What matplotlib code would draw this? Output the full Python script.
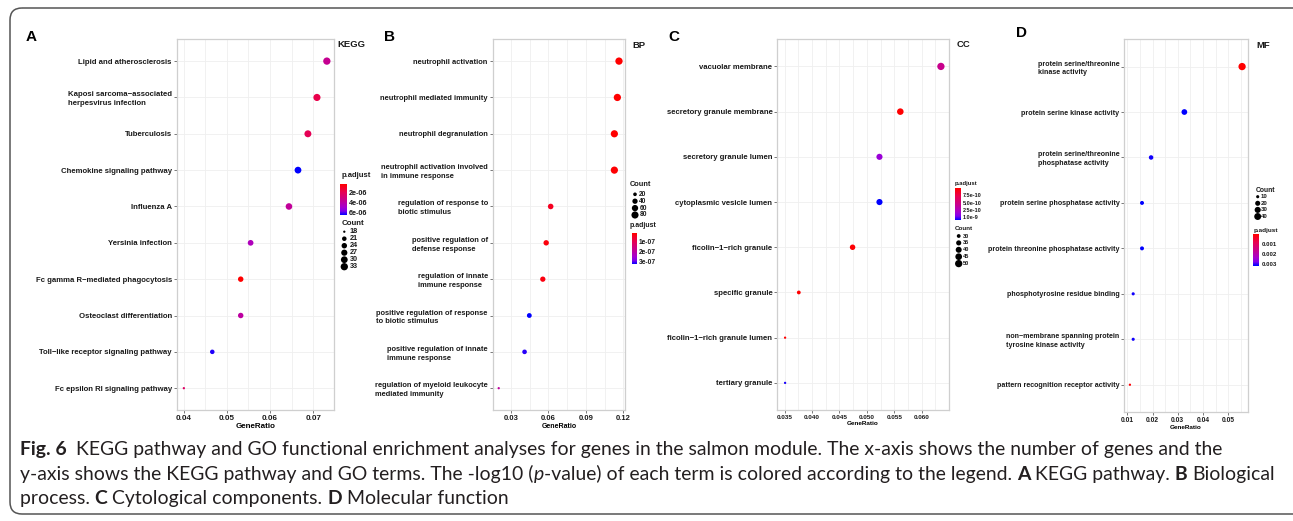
import numpy as np
import matplotlib
matplotlib.use('Agg')
import matplotlib.pyplot as plt
from matplotlib.colors import LinearSegmentedColormap, Normalize
from matplotlib.cm import ScalarMappable
from matplotlib.ticker import AutoMinorLocator
from matplotlib.patches import FancyBboxPatch

# ---- dados (dotplot KEGG / GO) ----
MINUS = '\u2212'

A_terms = ['Lipid and atherosclerosis',
           'Kaposi sarcoma' + MINUS + 'associated\nherpesvirus infection',
           'Tuberculosis', 'Chemokine signaling pathway', 'Influenza A',
           'Yersinia infection', 'Fc gamma R' + MINUS + 'mediated phagocytosis',
           'Osteoclast differentiation',
           'Toll' + MINUS + 'like receptor signaling pathway',
           'Fc epsilon RI signaling pathway']
A_ratio = [0.0732, 0.0709, 0.0688, 0.0665, 0.0644, 0.0555, 0.0532, 0.0532, 0.0466, 0.0400]
A_count = [33, 32, 31, 30, 29, 25, 24, 24, 21, 18]
A_padj = [3.6e-06, 1.8e-06, 2.0e-06, 6.6e-06, 3.8e-06, 4.6e-06, 3.0e-07, 4.0e-06, 6.4e-06, 2.4e-06]

B_terms = ['neutrophil activation', 'neutrophil mediated immunity',
           'neutrophil degranulation',
           'neutrophil activation involved\nin immune response',
           'regulation of response to\nbiotic stimulus',
           'positive regulation of\ndefense response',
           'regulation of innate\nimmune response',
           'positive regulation of response\nto biotic stimulus',
           'positive regulation of innate\nimmune response',
           'regulation of myeloid leukocyte\nmediated immunity']
B_ratio = [0.1165, 0.1152, 0.1128, 0.1128, 0.0618, 0.0582, 0.0555, 0.0447, 0.0409, 0.0202]
B_count = [85, 84, 82, 82, 45, 42, 40, 33, 30, 15]
B_padj = [1.3e-08, 1.5e-08, 1.4e-08, 1.6e-08, 4.5e-08, 2.5e-08, 2.8e-08, 3.23e-07, 3.1e-07, 1.9e-07]

C_terms = ['vacuolar membrane', 'secretory granule membrane',
           'secretory granule lumen', 'cytoplasmic vesicle lumen',
           'ficolin' + MINUS + '1' + MINUS + 'rich granule', 'specific granule',
           'ficolin' + MINUS + '1' + MINUS + 'rich granule lumen', 'tertiary granule']
C_ratio = [0.0635, 0.0561, 0.0523, 0.0523, 0.0474, 0.0376, 0.0351, 0.0351]
C_count = [50, 44, 41, 41, 37, 30, 28, 28]
C_padj = [5.6e-10, 2.0e-11, 8.6e-10, 1.086e-09, 3.0e-11, 1.5e-11, 1.5e-11, 1.06e-09]

D_terms = ['protein serine/threonine\nkinase activity',
           'protein serine kinase activity',
           'protein serine/threonine\nphosphatase activity',
           'protein serine phosphatase activity',
           'protein threonine phosphatase activity',
           'phosphotyrosine residue binding',
           'non' + MINUS + 'membrane spanning protein\ntyrosine kinase activity',
           'pattern recognition receptor activity']
D_ratio = [0.0555, 0.0326, 0.0194, 0.0158, 0.0158, 0.0123, 0.0123, 0.0110]
D_count = [45, 26, 16, 13, 13, 10, 10, 9]
D_padj = [6.0e-05, 3.15e-03, 3.1e-03, 3.15e-03, 3.15e-03, 3.1e-03, 3.1e-03, 1.2e-04]

# eixos x e legendas
A_xticks = [0.04, 0.05, 0.06, 0.07]
B_xticks = [0.03, 0.06, 0.09, 0.12]
C_xticks = [0.035, 0.040, 0.045, 0.050, 0.055, 0.060]
D_xticks = [0.01, 0.02, 0.03, 0.04, 0.05]

A_cb_ticks = [2e-06, 4e-06, 6e-06]
A_cb_labels = ['2e-06', '4e-06', '6e-06']
B_cb_ticks = [1e-07, 2e-07, 3e-07]
B_cb_labels = ['1e-07', '2e-07', '3e-07']
C_cb_ticks = [2.5e-10, 5.0e-10, 7.5e-10, 1.0e-09]
C_cb_labels = ['7.5e-10', '5.0e-10', '2.5e-10', '1.0e-9']
D_cb_ticks = [0.001, 0.002, 0.003]
D_cb_labels = ['0.001', '0.002', '0.003']

A_breaks = [18, 21, 24, 27, 30, 33]
B_breaks = [20, 40, 60, 80]
C_breaks = [30, 35, 40, 45, 50]
D_breaks = [10, 20, 30, 40]

caption = [
    [('Fig. 6  ', 'bold', 'normal'),
     ('KEGG pathway and GO functional enrichment analyses for genes in the salmon module. '
      'The x-axis shows the number of genes and the', 'normal', 'normal')],
    [('y-axis shows the KEGG pathway and GO terms. The -log10 (', 'normal', 'normal'),
     ('p', 'normal', 'italic'),
     ('-value) of each term is colored according to the legend. ', 'normal', 'normal'),
     ('A ', 'bold', 'normal'), ('KEGG pathway. ', 'normal', 'normal'),
     ('B ', 'bold', 'normal'), ('Biological', 'normal', 'normal')],
    [('process. ', 'normal', 'normal'), ('C ', 'bold', 'normal'),
     ('Cytological components. ', 'normal', 'normal'),
     ('D ', 'bold', 'normal'), ('Molecular function', 'normal', 'normal')],
]

# ---- figura ----
W, H = 1293, 521
plt.rcParams['font.family'] = ['Liberation Sans', 'DejaVu Sans']
fig = plt.figure(figsize=(W / 100, H / 100), dpi=100)
fig.patch.set_facecolor('white')

cmap = LinearSegmentedColormap.from_list(
    'padj', [(0, '#FF0000'), (0.25, '#E80050'), (0.5, '#C90089'),
             (0.75, '#A600CE'), (0.875, '#7F00EC'), (1, '#0000FF')])


def rect(l, t, r, b):
    # caixa em pixels -> coordenadas da figura
    return [l / W, 1 - b / H, (r - l) / W, (b - t) / H]


def dot_size(c, cmin, cmax):
    f = np.clip((np.asarray(c, float) - cmin) / (cmax - cmin), 0, 1)
    d = 2.3 + 5.0 * np.sqrt(f)  # diametro em px
    return (d * 0.72) ** 2


def panel(box, terms, ratio, count, padj, xticks, xfmt, fs_y, fs_x, fs_lab):
    ax = fig.add_axes(rect(*box))
    n = len(terms)
    y = np.arange(n)[::-1]
    norm = Normalize(min(padj), max(padj))
    ax.scatter(ratio, y, s=dot_size(count, min(count), max(count)), c=padj,
               cmap=cmap, norm=norm, linewidths=0, zorder=3)
    ax.set_ylim(-0.6, n - 0.4)
    ax.set_yticks(y)
    ax.set_yticklabels(terms, fontsize=fs_y, fontweight='bold', color='#1a1a1a',
                       linespacing=1.35)
    for lab in ax.get_yticklabels():
        lab.set_multialignment('left')
    ax.set_xticks(xticks)
    ax.set_xticklabels([xfmt % v for v in xticks], fontsize=fs_x,
                       fontweight='bold', color='#1a1a1a')
    ax.xaxis.set_minor_locator(AutoMinorLocator(2))
    ax.grid(True, which='both', color='#efefef', lw=0.6)
    ax.set_axisbelow(True)
    for s in ax.spines.values():
        s.set_color('#cfcfcf')
        s.set_linewidth(0.9)
    ax.tick_params(length=2, width=0.5, color='#444444', pad=1.5)
    ax.tick_params(which='minor', length=0)
    ax.set_xlabel('GeneRatio', fontsize=fs_lab, fontweight='bold', labelpad=1)
    return norm


def colorbar(cbox, norm, ticks, labels, fs):
    cax = fig.add_axes(rect(*cbox))
    cb = fig.colorbar(ScalarMappable(norm=norm, cmap=cmap), cax=cax)
    cax.invert_yaxis()
    cb.set_ticks(ticks)
    cb.set_ticklabels(labels)
    cax.tick_params(length=0, labelsize=fs, pad=1.5)
    for lab in cax.get_yticklabels():
        lab.set_fontweight('bold')
        lab.set_color('#1a1a1a')
    cb.outline.set_visible(False)


normA = panel((176.7, 39.3, 334, 410), A_terms, A_ratio, A_count, A_padj,
              A_xticks, '%.2f', 5.6, 5.8, 5.8)
normB = panel((492.7, 39.3, 625, 410), B_terms, B_ratio, B_count, B_padj,
              B_xticks, '%.2f', 5.45, 5.5, 5.0)
normC = panel((777.3, 39.3, 948.7, 410), C_terms, C_ratio, C_count, C_padj,
              C_xticks, '%.3f', 5.6, 4.6, 4.6)
normD = panel((1124.3, 39.3, 1247.7, 412), D_terms, D_ratio, D_count, D_padj,
              D_xticks, '%.2f', 5.1, 4.8, 4.6)

# camada de sobreposicao em pixels (legendas, moldura)
ov = fig.add_axes([0, 0, 1, 1])
ov.set_xlim(0, W)
ov.set_ylim(H, 0)
ov.axis('off')


def count_legend(x_title, y_title, x_dot, x_lab, y0, step, breaks, count, fs):
    ov.text(x_title, y_title, 'Count', fontsize=fs + 0.5, fontweight='bold',
            va='center', ha='left', color='#1a1a1a')
    ys = [y0 + i * step for i in range(len(breaks))]
    ov.scatter([x_dot] * len(breaks), ys, s=dot_size(breaks, min(count), max(count)),
               c='black', linewidths=0)
    for yy, b in zip(ys, breaks):
        ov.text(x_lab, yy, str(b), fontsize=fs, fontweight='bold', va='center',
                ha='left', color='#1a1a1a')


def title(x, y, txt, fs):
    ov.text(x, y, txt, fontsize=fs, fontweight='bold', va='center', ha='left',
            color='#1a1a1a')


# A - KEGG
title(337.3, 44.3, 'KEGG', 6.8)
title(341.5, 175.7, 'p.adjust', 5.5)
colorbar((340, 184, 346.7, 215), normA, A_cb_ticks, A_cb_labels, 5.2)
count_legend(341.5, 223.3, 344.3, 349.5, 231.7, 7.0, A_breaks, A_count, 5.2)

# B - BP
title(632.7, 45, 'BP', 6.8)
count_legend(629.7, 184.7, 635, 639.3, 194.3, 6.9, B_breaks, B_count, 4.8)
title(629.7, 225.7, 'p.adjust', 5.0)
colorbar((631.7, 233.3, 636.7, 264.3), normB, B_cb_ticks, B_cb_labels, 4.8)

# C - CC
title(956.7, 44.3, 'CC', 6.8)
title(955, 183, 'p.adjust', 4.2)
colorbar((955, 188.3, 961, 220), normC, C_cb_ticks, C_cb_labels, 4.0)
count_legend(955, 228.3, 958.7, 962.7, 236, 6.9, C_breaks, C_count, 4.0)

# D - MF
title(1256.7, 45, 'MF', 6.8)
count_legend(1255.7, 190.3, 1257.7, 1261, 196.7, 6.6, D_breaks, D_count, 4.4)
title(1253.3, 230.3, 'p.adjust', 4.6)
colorbar((1253.3, 234.3, 1259.3, 265.7), normD, D_cb_ticks, D_cb_labels, 4.4)

# letras dos paineis
for x, y, let in [(25.5, 36.7, 'A'), (384, 36.7, 'B'), (668.3, 36.7, 'C'), (1016, 33.3, 'D')]:
    ov.text(x, y, let, fontsize=11, fontweight='bold', va='center', ha='left')

# moldura arredondada
ov.add_patch(FancyBboxPatch((10, 8), 1330, 506,
                            boxstyle='round,pad=0,rounding_size=12',
                            ec='#555555', fc='none', lw=1.1, clip_on=False))

# ---- legenda (caption) com trechos em negrito/italico ----
cap_font = ['Lato', 'DejaVu Sans']
renderer = fig.canvas.get_renderer()


def seg_width(txt, size, w, st):
    t = ov.text(0, 0, '|' + txt + '|', fontsize=size, fontweight=w, fontstyle=st,
                family=cap_font)
    t0 = ov.text(0, 0, '||', fontsize=size, fontweight=w, fontstyle=st, family=cap_font)
    wd = t.get_window_extent(renderer).width - t0.get_window_extent(renderer).width
    t.remove()
    t0.remove()
    return wd


# ajusta o tamanho para as linhas ocuparem a largura da original
ref = (sum(seg_width(s, 10, w, st) for s, w, st in caption[0]) +
       sum(seg_width(s, 10, w, st) for s, w, st in caption[1]))
cap_size = 10 * ((1233 - 20) + (1262 - 20)) / ref

for line, yb in zip(caption, [455, 480, 504]):
    x = 20
    for s, w, st in line:
        ov.text(x, yb, s, fontsize=cap_size, fontweight=w, fontstyle=st,
                family=cap_font, va='baseline', ha='left', color='#231f20')
        x += seg_width(s, cap_size, w, st)

fig.savefig('out.png', dpi=100)
